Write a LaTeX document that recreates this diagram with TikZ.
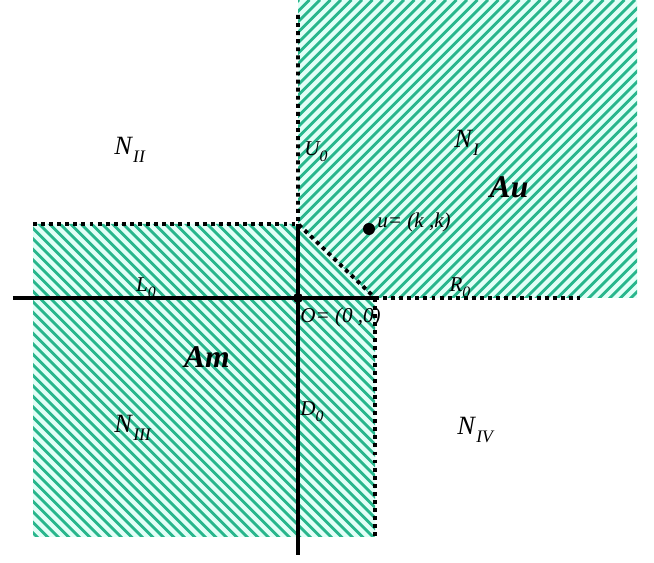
\documentclass[tikz,border=0pt]{standalone}
\usepackage{fontspec}
\setmainfont{Liberation Serif}
\definecolor{stripe}{RGB}{40,182,140}
\definecolor{stripebg}{RGB}{226,255,247}
\newcommand{\sublab}[2]{\textit{#1}\raisebox{-0.6ex}{\fontsize{9}{11}\selectfont\textit{#2}}}
\newcommand{\bigsublab}[2]{\textit{#1}\raisebox{-0.6ex}{\fontsize{10}{12}\selectfont\textit{#2}}}

\begin{document}
\begin{tikzpicture}[x=0.02cm,y=0.02cm,
  bound/.style={line width=2.2pt,dash pattern=on 2.2pt off 2.4pt},
  axis/.style={line width=1.8pt},
  hatch/.style={stripe,line width=1.6pt},
  lab/.style={font=\fontsize{12}{14}\selectfont\itshape,inner sep=0pt},
  quad/.style={font=\fontsize{15}{18}\selectfont,inner sep=0pt},
  setlab/.style={font=\fontsize{18}{21}\selectfont\bfseries\itshape,inner sep=0pt},
  point/.style={circle,fill,inner sep=0pt,minimum size=#1}]
  \useasboundingbox (0,0) rectangle (654,563);
  \coordinate (O) at (298,265);
  \coordinate (ltop) at (33,339);
  \coordinate (cut) at (298,339);
  \coordinate (rcorner) at (375,265);
  \coordinate (uend) at (298,548);
  \coordinate (rend) at (580,265);
  \coordinate (dend) at (375,23);
  \coordinate (xstart) at (13,265);
  \coordinate (yend) at (298,8);
  \fill[stripebg] (298,563) -- (637,563) -- (637,265) -- (rcorner) -- (cut) -- cycle;
  \fill[stripebg] (ltop) -- (cut) -- (rcorner) -- (375,26) -- (33,26) -- cycle;
  \begin{scope}
    \clip (298,563) -- (637,563) -- (637,265) -- (rcorner) -- (cut) -- cycle;
    \foreach \s in {-600,-589.5,...,700}
      \draw[hatch] (\s,0) -- ++(563,563);
  \end{scope}
  \begin{scope}
    \clip (ltop) -- (cut) -- (rcorner) -- (375,26) -- (33,26) -- cycle;
    \foreach \s in {0,10.5,...,1000}
      \draw[hatch] (\s,0) -- ++(-563,563);
  \end{scope}
  \draw[bound] (ltop) -- (cut);
  \draw[bound] (uend) -- (cut) -- (rcorner);
  \draw[bound] (rcorner) -- (rend);
  \draw[bound] (rcorner) -- (dend);
  \draw[axis] (xstart) -- (rcorner);
  \draw[axis] (cut) -- (yend);
  \node[point=0.2cm] (origin) at (O) {};
  \node[point=0.24cm] (u) at (369,334) {};
  \node[quad] (n2) at (130,413) {\bigsublab{N}{II}};
  \node[quad] (n1) at (467,420) {\bigsublab{N}{I}};
  \node[quad] (n3) at (133,135) {\bigsublab{N}{III}};
  \node[quad] (n4) at (476,133) {\bigsublab{N}{IV}};
  \node[setlab] (au) at (509,376) {Au};
  \node[setlab] (am) at (207,206) {Am};
  \node[lab] (u0) at (316,411) {\sublab{U}{0}};
  \node[lab] (l0) at (146,275) {\sublab{L}{0}};
  \node[lab] (r0) at (460,275) {\sublab{R}{0}};
  \node[lab] (d0) at (312,151) {\sublab{D}{0}};
  \node[lab,anchor=west] (ulab) at (377,341) {u= (k ,k)};
  \node[lab,anchor=west] (olab) at (300,246) {O= (0 ,0)};
\end{tikzpicture}
\end{document}
